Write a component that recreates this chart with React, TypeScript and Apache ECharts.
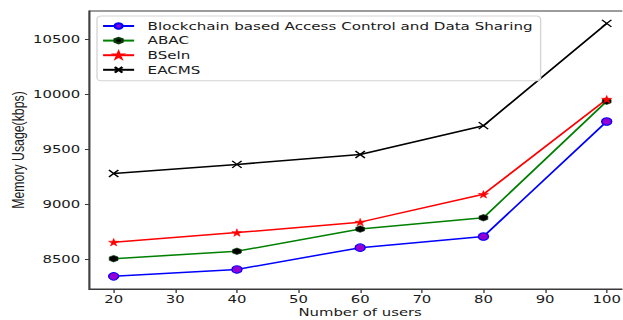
import React, { useEffect, useRef } from "react";
import * as echarts from "echarts";

// Number of users on the x axis
const users = [20, 40, 60, 80, 100];

// Memory usage (kbps) per scheme
const blockchainAC = [8342, 8405, 8603, 8704, 9750];
const abac = [8503, 8570, 8772, 8875, 9935];
const bseln = [8653, 8740, 8835, 9088, 9953];
const eacms = [9277, 9360, 9450, 9712, 10642];

// Tick labels
const xTicks = [20, 30, 40, 50, 60, 70, 80, 90, 100];
const yTicks = [8500, 9000, 9500, 10000, 10500];

const seriesNames = [
  "Blockchain based Access Control and Data Sharing",
  "ABAC",
  "BSeln",
  "EACMS",
];

// The figure is drawn narrower and stretched horizontally, like the original plot
const STRETCH = 1.35;
const OUT_W = 623;
const OUT_H = 320;
const W = OUT_W / STRETCH;

const STAR =
  "path://M50,0L61.2,34.5L97.6,34.5L68.2,55.9L79.4,90.5L50,69.1L20.6,90.5L31.8,55.9L2.4,34.5L38.8,34.5Z";
const HEX = "path://M5,0L9.33,2.5L9.33,7.5L5,10L0.67,7.5L0.67,2.5Z";
const CROSS = "path://M0,0L10,10M10,0L0,10";

const pairs = (ys: number[]) => users.map((u, i) => [u, ys[i]]);

export default function App() {
  const ref = useRef<HTMLDivElement>(null);

  useEffect(() => {
    if (!ref.current) return;
    const chart = echarts.init(ref.current, null, { renderer: "svg" });
    const axisColor = "#3a3a3a";
    const labelFont = "DejaVu Sans";

    chart.setOption({
      animation: false,
      backgroundColor: "#ffffff",
      grid: {
        left: 89 / STRETCH,
        right: W - 632 / STRETCH,
        top: 11,
        bottom: 31,
        containLabel: false,
        outerBoundsMode: "none",
        show: true,
        borderColor: axisColor,
        borderWidth: 1,
        backgroundColor: "transparent",
      },
      legend: {
        orient: "vertical",
        left: 97 / STRETCH,
        top: 16,
        padding: [4, 6, 5, 3.5],
        itemWidth: 23,
        itemHeight: 7,
        itemGap: 2.6,
        backgroundColor: "rgba(255,255,255,0.85)",
        borderColor: "#d4d4d4",
        borderWidth: 1,
        borderRadius: 3,
        data: seriesNames,
        textStyle: {
          fontFamily: labelFont,
          fontSize: 11.2,
          color: "#1a1a1a",
          lineHeight: 12,
          padding: [0, 0, 0, 5],
        },
      },
      xAxis: {
        type: "value",
        min: 16,
        max: 104,
        name: "Number of users",
        nameLocation: "middle",
        nameMoveOverlap: false,
        nameGap: 17,
        nameTextStyle: {
          fontFamily: labelFont,
          fontSize: 11,
          lineHeight: 12,
          color: "#1a1a1a",
        },
        splitLine: { show: false },
        axisLine: { show: true, lineStyle: { color: axisColor, width: 1 } },
        axisTick: { show: true, length: 4, customValues: xTicks, lineStyle: { color: axisColor } },
        axisLabel: {
          customValues: xTicks,
          margin: 5,
          fontFamily: labelFont,
          fontSize: 11,
          color: "#1a1a1a",
          formatter: (v: number) => String(v),
        },
      },
      yAxis: {
        type: "value",
        min: 8227,
        max: 10755,
        name: "Memory Usage(kbps)",
        nameLocation: "middle",
        nameMoveOverlap: false,
        nameGap: 46,
        nameTextStyle: { fontFamily: "Liberation Sans", fontSize: 12.3, color: "#1a1a1a" },
        splitLine: { show: false },
        axisLine: { show: true, lineStyle: { color: axisColor, width: 1 } },
        axisTick: { show: true, length: 3, customValues: yTicks, lineStyle: { color: axisColor } },
        axisLabel: {
          customValues: yTicks,
          margin: 6.5,
          fontFamily: labelFont,
          fontSize: 11,
          color: "#1a1a1a",
          formatter: (v: number) => String(v),
        },
      },
      series: [
        {
          name: seriesNames[0],
          type: "line",
          data: pairs(blockchainAC),
          symbol: "circle",
          symbolSize: 7.5,
          lineStyle: { color: "#0000ff", width: 1.5 },
          itemStyle: { color: "#9400d3", borderColor: "#0000ff", borderWidth: 1 },
        },
        {
          name: seriesNames[1],
          type: "line",
          data: pairs(abac),
          symbol: HEX,
          symbolSize: 6.5,
          lineStyle: { color: "#008000", width: 1.5 },
          itemStyle: { color: "#000000", borderColor: "#0a3a0a", borderWidth: 0.6 },
        },
        {
          name: seriesNames[2],
          type: "line",
          data: pairs(bseln),
          symbol: STAR,
          symbolSize: 7.5,
          lineStyle: { color: "#ff0000", width: 1.5 },
          itemStyle: { color: "#ff0000", borderColor: "#ff0000", borderWidth: 0.5 },
        },
        {
          name: seriesNames[3],
          type: "line",
          data: pairs(eacms),
          symbol: CROSS,
          symbolSize: 7,
          lineStyle: { color: "#000000", width: 1.5 },
          itemStyle: { color: "#000000", borderColor: "#000000", borderWidth: 1.2 },
        },
      ],
    });

    return () => chart.dispose();
  }, []);

  return (
    <div
      style={{
        position: "absolute",
        left: 0,
        top: 0,
        width: OUT_W,
        height: OUT_H,
        overflow: "hidden",
        background: "#ffffff",
      }}
    >
      <div
        ref={ref}
        style={{
          width: W,
          height: OUT_H,
          transform: `scaleX(${STRETCH})`,
          transformOrigin: "0 0",
        }}
      />
    </div>
  );
}
